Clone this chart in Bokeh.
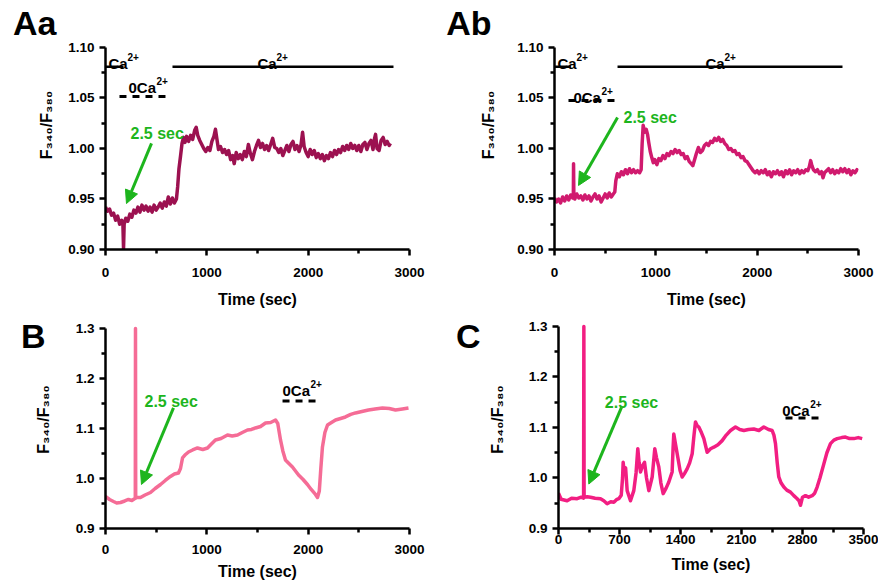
from bokeh.plotting import figure
from bokeh.models import Range1d, FixedTicker, NumeralTickFormatter, Arrow, NormalHead, LinearAxis
from bokeh.layouts import column, row
from bokeh.core.properties import value
from bokeh.embed import file_html
from bokeh.resources import INLINE

# ---------------- data ----------------
aa_t = [0, 20, 40, 60, 80, 100, 120, 140, 160, 172, 178, 184, 200, 220, 240, 260, 280, 300, 320, 340,
        360, 380, 400, 420, 440, 460, 480, 500, 520, 540, 560, 580, 600, 620, 640, 660, 680, 700, 712,
        725, 740, 755, 770, 785, 800, 820, 840, 860, 880, 895, 910, 930, 950, 970, 990, 1010, 1030,
        1050, 1070, 1085, 1100, 1115, 1135, 1155, 1175, 1195, 1215, 1235, 1255, 1270, 1290, 1310, 1330,
        1350, 1370, 1390, 1410, 1430, 1450, 1470, 1490, 1510, 1530, 1550, 1570, 1590, 1610, 1630, 1650,
        1670, 1690, 1710, 1730, 1750, 1770, 1790, 1810, 1830, 1850, 1870, 1890, 1910, 1930, 1945, 1960,
        1980, 2000, 2020, 2040, 2060, 2080, 2100, 2120, 2140, 2160, 2180, 2200, 2220, 2240, 2260, 2280,
        2300, 2320, 2340, 2360, 2380, 2400, 2420, 2440, 2460, 2480, 2500, 2520, 2540, 2560, 2580, 2600,
        2620, 2640, 2655, 2665, 2680, 2700, 2720, 2740, 2760, 2780, 2800, 2812]
aa_v = [0.942, 0.938, 0.940, 0.934, 0.936, 0.929, 0.933, 0.925, 0.929, 0.924, 0.901, 0.925, 0.931, 0.928,
        0.935, 0.932, 0.939, 0.936, 0.942, 0.937, 0.944, 0.939, 0.943, 0.938, 0.942, 0.937, 0.944, 0.939,
        0.942, 0.946, 0.941, 0.947, 0.943, 0.952, 0.945, 0.951, 0.946, 0.950, 0.962, 0.980, 0.992, 1.005,
        1.011, 1.006, 1.012, 1.007, 1.013, 1.009, 1.018, 1.021, 1.013, 1.008, 1.004, 1.000, 0.997, 1.001,
        0.998, 1.007, 1.012, 1.019, 1.009, 0.999, 1.002, 0.996, 0.999, 0.994, 0.998, 0.989, 0.993, 0.985,
        0.996, 0.990, 0.994, 0.989, 0.997, 0.992, 1.004, 0.995, 0.989, 0.997, 1.003, 1.008, 1.001, 1.005,
        0.999, 1.003, 0.998, 1.004, 1.010, 1.001, 1.000, 0.996, 1.000, 0.993, 0.998, 1.003, 0.997, 1.004,
        1.007, 0.999, 1.003, 0.997, 1.004, 1.016, 1.002, 0.996, 0.992, 0.999, 0.994, 0.998, 0.991, 0.995,
        0.990, 0.994, 0.988, 0.993, 0.990, 0.996, 0.992, 0.998, 0.994, 0.999, 0.996, 1.002, 0.998, 1.003,
        0.999, 1.005, 1.000, 1.003, 0.998, 1.003, 0.997, 1.004, 1.006, 0.999, 1.005, 1.008, 0.999, 1.010,
        1.014, 1.000, 0.998, 1.008, 1.011, 1.004, 1.007, 1.003, 1.005]

ab_t = [0, 20, 40, 60, 80, 100, 120, 140, 160, 180, 186, 188, 191, 200, 220, 240, 260, 280, 300, 320,
        340, 360, 380, 400, 420, 440, 460, 480, 500, 520, 540, 560, 580, 595, 605, 620, 640, 660, 680,
        700, 720, 740, 760, 780, 800, 820, 840, 855, 865, 875, 890, 905, 918, 930, 945, 960, 975, 990,
        1010, 1030, 1050, 1070, 1090, 1110, 1130, 1150, 1170, 1190, 1210, 1230, 1250, 1270, 1290, 1310,
        1330, 1350, 1365, 1380, 1400, 1420, 1440, 1460, 1480, 1500, 1520, 1540, 1560, 1580, 1600, 1620,
        1640, 1660, 1680, 1700, 1720, 1740, 1760, 1780, 1800, 1820, 1840, 1860, 1880, 1900, 1920, 1940,
        1960, 1980, 2000, 2020, 2040, 2060, 2080, 2100, 2120, 2140, 2160, 2180, 2200, 2220, 2240, 2260,
        2280, 2300, 2320, 2340, 2360, 2380, 2400, 2420, 2440, 2460, 2480, 2500, 2515, 2528, 2540, 2555,
        2575, 2595, 2615, 2635, 2650, 2665, 2685, 2705, 2725, 2745, 2765, 2785, 2805, 2825, 2845, 2865,
        2885, 2905, 2925, 2945, 2965, 2985, 2995]
ab_v = [0.951, 0.947, 0.950, 0.946, 0.952, 0.948, 0.953, 0.949, 0.954, 0.951, 0.953, 0.985, 0.953, 0.950,
        0.955, 0.951, 0.953, 0.949, 0.954, 0.950, 0.953, 0.948, 0.952, 0.955, 0.950, 0.953, 0.947, 0.951,
        0.955, 0.951, 0.956, 0.952, 0.955, 0.957, 0.968, 0.975, 0.972, 0.977, 0.974, 0.979, 0.975, 0.980,
        0.976, 0.979, 0.976, 0.978, 0.976, 0.979, 1.005, 1.023, 1.016, 1.019, 1.014, 1.006, 0.997, 0.991,
        0.986, 0.989, 0.984, 0.990, 0.988, 0.993, 0.990, 0.995, 0.993, 0.997, 0.995, 0.999, 0.996, 0.998,
        0.994, 0.995, 0.990, 0.992, 0.987, 0.985, 0.983, 0.988, 0.995, 1.001, 0.996, 0.998, 1.003, 1.005,
        1.003, 1.007, 1.006, 1.010, 1.008, 1.011, 1.007, 1.009, 1.005, 1.003, 0.999, 1.000, 0.997, 0.998,
        0.994, 0.995, 0.991, 0.992, 0.988, 0.987, 0.984, 0.981, 0.978, 0.976, 0.978, 0.975, 0.978, 0.976,
        0.979, 0.974, 0.977, 0.972, 0.977, 0.975, 0.978, 0.974, 0.977, 0.972, 0.978, 0.975, 0.979, 0.974,
        0.978, 0.976, 0.979, 0.975, 0.978, 0.976, 0.979, 0.978, 0.982, 0.988, 0.983, 0.979, 0.977, 0.979,
        0.975, 0.977, 0.971, 0.976, 0.978, 0.980, 0.976, 0.979, 0.975, 0.978, 0.976, 0.980, 0.977, 0.980,
        0.976, 0.979, 0.974, 0.978, 0.976, 0.979, 0.978]

b_t = [0, 40, 79, 110, 148, 190, 227, 260, 290, 294, 296, 298, 320, 345, 390, 444, 490, 543, 590, 641,
       680, 720, 740, 760, 790, 819, 860, 908, 960, 1007, 1040, 1085, 1140, 1204, 1250, 1303, 1350, 1401,
       1440, 1480, 1530, 1579, 1630, 1678, 1700, 1727, 1750, 1776, 1810, 1845, 1905, 1950, 1993, 2030,
       2072, 2092, 2110, 2125, 2141, 2165, 2191, 2230, 2270, 2320, 2368, 2420, 2467, 2530, 2595, 2660,
       2733, 2800, 2862, 2930, 2990]
b_v = [0.964, 0.958, 0.954, 0.951, 0.952, 0.955, 0.958, 0.956, 0.960, 0.960, 1.300, 0.962, 0.962, 0.962,
       0.967, 0.972, 0.980, 0.988, 0.996, 1.004, 1.009, 1.011, 1.020, 1.041, 1.048, 1.053, 1.057, 1.061,
       1.058, 1.061, 1.068, 1.077, 1.080, 1.087, 1.085, 1.087, 1.092, 1.097, 1.098, 1.101, 1.104, 1.111,
       1.112, 1.117, 1.110, 1.077, 1.055, 1.037, 1.030, 1.023, 1.007, 0.998, 0.988, 0.978, 0.968, 0.962,
       0.975, 1.020, 1.063, 1.092, 1.107, 1.112, 1.117, 1.120, 1.123, 1.128, 1.131, 1.134, 1.137, 1.139,
       1.141, 1.140, 1.137, 1.139, 1.141]

c_t = [0, 30, 99, 150, 214, 260, 288, 291, 294, 330, 367, 420, 482, 520, 558, 600, 635, 665, 692, 720,
       735, 742, 755, 770, 788, 826, 864, 890, 910, 925, 941, 965, 987, 1010, 1037, 1075, 1090, 1105,
       1125, 1151, 1175, 1201, 1235, 1266, 1304, 1315, 1323, 1345, 1369, 1395, 1419, 1450, 1476, 1505,
       1534, 1555, 1572, 1590, 1610, 1640, 1668, 1706, 1745, 1782, 1830, 1878, 1925, 1974, 2031, 2080,
       2127, 2180, 2241, 2300, 2356, 2410, 2452, 2472, 2490, 2510, 2528, 2555, 2586, 2620, 2662, 2700,
       2739, 2760, 2777, 2800, 2834, 2870, 2911, 2940, 2968, 3000, 3045, 3080, 3121, 3160, 3198, 3250,
       3293, 3340, 3389, 3440, 3485]
c_v = [0.970, 0.958, 0.955, 0.960, 0.959, 0.962, 0.960, 1.300, 0.962, 0.963, 0.962, 0.960, 0.959, 0.955,
       0.949, 0.953, 0.952, 0.957, 0.959, 0.966, 1.000, 1.031, 1.010, 1.020, 0.975, 0.955, 0.975, 1.010,
       1.058, 1.030, 1.012, 1.025, 1.031, 1.000, 0.975, 1.002, 1.030, 1.058, 1.040, 1.022, 0.990, 0.969,
       0.980, 0.992, 1.012, 1.060, 1.087, 1.065, 1.041, 1.015, 1.002, 1.010, 1.018, 1.030, 1.048, 1.085,
       1.111, 1.104, 1.101, 1.090, 1.078, 1.051, 1.058, 1.061, 1.066, 1.074, 1.085, 1.094, 1.101, 1.096,
       1.094, 1.096, 1.097, 1.094, 1.101, 1.096, 1.094, 1.085, 1.068, 1.030, 1.002, 0.990, 0.982, 0.976,
       0.972, 0.965, 0.959, 0.955, 0.946, 0.962, 0.965, 0.962, 0.965, 0.970, 0.982, 1.000, 1.028, 1.050,
       1.068, 1.075, 1.078, 1.080, 1.081, 1.078, 1.078, 1.080, 1.078]

# tick values
x_ticks_3000 = [0, 1000, 2000, 3000]
x_minor_3000 = [500, 1500, 2500]
x_ticks_3500 = [0, 700, 1400, 2100, 2800, 3500]
x_minor_3500 = [350, 1050, 1750, 2450, 3150]
y_ticks_a = [0.90, 0.95, 1.00, 1.05, 1.10]
y_minor_a = [0.925, 0.975, 1.025, 1.075]
y_ticks_bc = [0.9, 1.0, 1.1, 1.2, 1.3]
y_minor_bc = [0.95, 1.05, 1.15, 1.25]

# annotation data: (x0, x1, y) bars, (x, y) label anchors
aa_ca_bars = [(0, 178, 1.081), (661, 2842, 1.081)]
aa_ca_labels = [(30, 1.0845), (1500, 1.0845)]
aa_zero_bar = (138, 641, 1.0515)
aa_zero_label = (227, 1.0604)
aa_sec_label = (247, 1.0149)
aa_arrow = (454, 1.005, 207, 0.9455)

ab_ca_bars = [(0, 158, 1.081), (622, 2842, 1.081)]
ab_ca_labels = [(30, 1.0845), (1490, 1.0845)]
ab_zero_bar = (138, 651, 1.0475)
ab_zero_label = (187, 1.0505)
ab_sec_label = (681, 1.0307)
ab_arrow = (622, 1.0307, 237, 0.9634)

b_zero_bar = (1747, 2122, 1.155)
b_zero_label = (1747, 1.1766)
b_sec_label = (385, 1.153)
b_arrow = (671, 1.141, 355, 0.988)

c_zero_bar = (2605, 3026, 1.119)
c_zero_label = (2567, 1.134)
c_sec_label = (532, 1.149)
c_arrow = (723, 1.140, 348, 0.988)

# ---------------- styling ----------------
FONT = "Liberation Sans"
GREEN = "#1DB51D"
COL_AA = "#9C1150"
COL_AB = "#D01A6E"
COL_B = "#F56C96"
COL_C = "#F21E82"


def make_fig(w, h, left, right, bottom, xr, yr, ybounds, xt, xm, yt, ym, yfmt, ylab_standoff,
             xlab_standoff, xmaj_standoff):
    # the frame reaches the top of each figure so the panel letter can sit beside it
    p = figure(width=w, height=h, x_range=Range1d(*xr), y_range=Range1d(*yr),
               min_border_left=left, min_border_right=right, min_border_top=0,
               min_border_bottom=bottom, toolbar_location=None, output_backend="svg")
    p.outline_line_color = None
    p.grid.visible = False
    p.background_fill_color = "white"
    p.border_fill_color = "white"
    p.xaxis.ticker = FixedTicker(ticks=xt, minor_ticks=xm)
    p.yaxis.ticker = FixedTicker(ticks=yt, minor_ticks=ym)
    p.yaxis.bounds = ybounds
    p.xaxis.formatter = NumeralTickFormatter(format="0")
    p.yaxis.formatter = NumeralTickFormatter(format=yfmt)
    for ax in (p.xaxis, p.yaxis):
        ax.axis_line_width = 2.5
        ax.axis_line_color = "black"
        ax.major_tick_line_width = 2.5
        ax.minor_tick_line_width = 2.5
        ax.major_tick_line_color = "black"
        ax.minor_tick_line_color = "black"
        ax.major_tick_out = 6
        ax.major_tick_in = 0
        ax.minor_tick_out = 4
        ax.minor_tick_in = 0
        ax.major_label_text_font = FONT
        ax.major_label_text_font_style = "bold"
        ax.major_label_text_font_size = "13.5px"
        ax.major_label_text_color = "black"
        ax.axis_label_text_font = FONT
        ax.axis_label_text_font_style = "bold"
        ax.axis_label_text_font_size = "16px"
        ax.axis_label_text_color = "black"
    p.xaxis.axis_label = "Time (sec)"
    p.yaxis.axis_label = "F\u2083\u2084\u2080/F\u2083\u2088\u2080"
    p.yaxis.axis_label_standoff = ylab_standoff
    p.xaxis.axis_label_standoff = xlab_standoff
    p.xaxis.major_label_standoff = xmaj_standoff
    p.yaxis.major_label_standoff = 5
    return p


def add_sup_label(p, x, y, base, sup, offset):
    p.text(x=[x], y=[y], text=[base], text_font=value(FONT), text_font_style="bold",
           text_font_size="15px", text_color="black", text_baseline="alphabetic", text_align="left")
    p.text(x=[x], y=[y], text=[sup], text_font=value(FONT), text_font_style="bold",
           text_font_size="10px", text_color="black", text_baseline="alphabetic", text_align="left",
           x_offset=offset, y_offset=-6)


def add_common(p, zero_bar, zero_label, sec_label, arrow):
    p.line([zero_bar[0], zero_bar[1]], [zero_bar[2], zero_bar[2]], line_color="black",
           line_width=3, line_dash="7 6")
    add_sup_label(p, zero_label[0], zero_label[1], "0Ca", "2+", 28)
    p.text(x=[sec_label[0]], y=[sec_label[1]], text=["2.5 sec"], text_font=value(FONT),
           text_font_style="bold", text_font_size="16px", text_color=GREEN,
           text_baseline="alphabetic", text_align="left")
    p.add_layout(Arrow(end=NormalHead(size=13, fill_color=GREEN, line_color=GREEN),
                       x_start=arrow[0], y_start=arrow[1], x_end=arrow[2], y_end=arrow[3],
                       line_color=GREEN, line_width=3))


def add_axis_letter(p, text, tick, standoff):
    ax = LinearAxis(ticker=FixedTicker(ticks=[tick], minor_ticks=[]),
                    major_label_overrides={tick: text},
                    axis_line_color=None, major_tick_line_color=None,
                    minor_tick_line_color=None, major_tick_out=0, major_tick_in=0,
                    minor_tick_out=0, minor_tick_in=0, major_label_standoff=standoff,
                    major_label_text_font=FONT, major_label_text_font_style="bold",
                    major_label_text_font_size="34px", major_label_text_color="black")
    p.add_layout(ax, "left")


# ---- Aa ----
pAa = make_fig(438, 310, 105, 29, 61, (0, 3000), (0.90, 1.14653), (0.90, 1.10), x_ticks_3000,
               x_minor_3000, y_ticks_a, y_minor_a, "0.00", 10, 11, 12)
pAa.line(aa_t, aa_v, line_color=COL_AA, line_width=3.5, line_join="round")
for b in aa_ca_bars:
    pAa.line([b[0], b[1]], [b[2], b[2]], line_color="black", line_width=2.5)
for lab in aa_ca_labels:
    add_sup_label(pAa, lab[0], lab[1], "Ca", "2+", 19)
add_common(pAa, aa_zero_bar, aa_zero_label, aa_sec_label, aa_arrow)
add_axis_letter(pAa, "Aa", 1.1243, -21)

# ---- Ab ----
pAb = make_fig(440, 310, 116, 20, 61, (0, 3000), (0.90, 1.14653), (0.90, 1.10), x_ticks_3000,
               x_minor_3000, y_ticks_a, y_minor_a, "0.00", 17, 11, 12)
pAb.line(ab_t, ab_v, line_color=COL_AB, line_width=3.5, line_join="round")
for b in ab_ca_bars:
    pAb.line([b[0], b[1]], [b[2], b[2]], line_color="black", line_width=2.5)
for lab in ab_ca_labels:
    add_sup_label(pAb, lab[0], lab[1], "Ca", "2+", 19)
add_common(pAb, ab_zero_bar, ab_zero_label, ab_sec_label, ab_arrow)
add_axis_letter(pAb, "Ab", 1.1243, -14)

# ---- B ----
pB = make_fig(438, 274, 105, 29, 55, (0, 3000), (0.9, 1.33582), (0.9, 1.3), x_ticks_3000,
              x_minor_3000, y_ticks_bc, y_minor_bc, "0.0", 21, 6, 10)
pB.line(b_t, b_v, line_color=COL_B, line_width=3.5, line_join="round")
add_common(pB, b_zero_bar, b_zero_label, b_sec_label, b_arrow)
add_axis_letter(pB, "B", 1.3109, -14)

# ---- C ----
pC = make_fig(440, 274, 120, 15, 56, (0, 3500), (0.9, 1.33168), (0.9, 1.3), x_ticks_3500,
              x_minor_3500, y_ticks_bc, y_minor_bc, "0.0", 20, 9, 0)
pC.line(c_t, c_v, line_color=COL_C, line_width=3.5, line_join="round")
add_common(pC, c_zero_bar, c_zero_label, c_sec_label, c_arrow)
add_axis_letter(pC, "C", 1.3069, 5)

layout = column(row(pAa, pAb), row(pB, pC))

open("out.html", "w").write(file_html(layout, INLINE))
